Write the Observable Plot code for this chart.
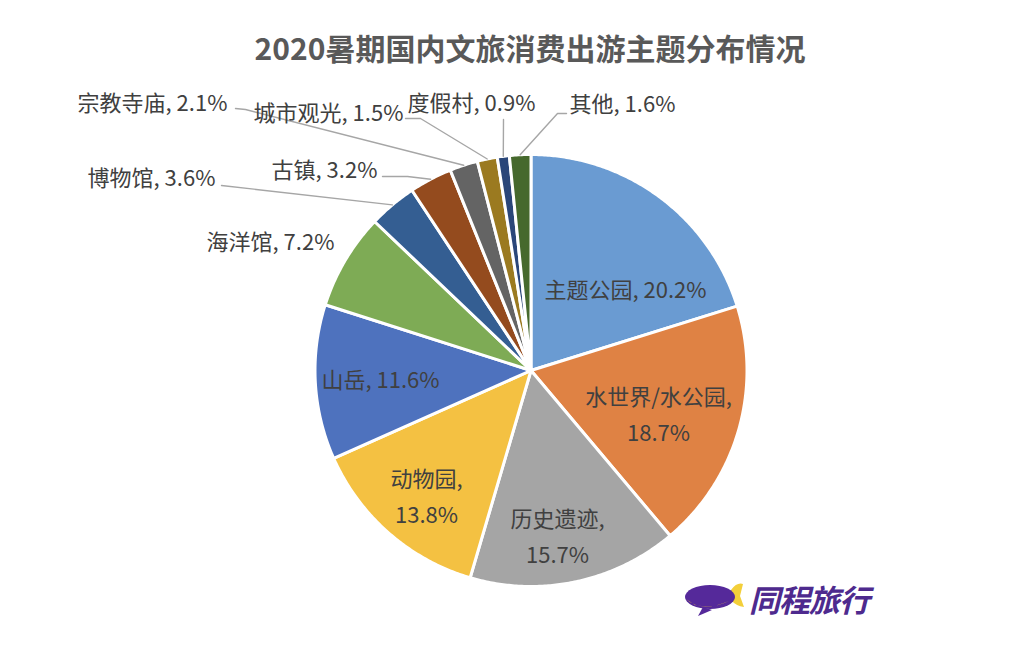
<!DOCTYPE html>
<html><head><meta charset="utf-8">
<script src="https://cdn.jsdelivr.net/npm/d3@7"></script>
<script src="https://cdn.jsdelivr.net/npm/@observablehq/plot@0.6"></script>
<style>
body{margin:0;background:#fff;}
#wrap{position:relative;width:1016px;height:654px;font-family:"Noto Sans CJK SC","Noto Sans",sans-serif;overflow:hidden;}
#title{position:absolute;left:0;width:1060px;top:29px;text-align:center;font-size:30px;font-weight:bold;color:#595959;line-height:36px;}
#chart{position:absolute;left:0;top:0;}
#logo{position:absolute;left:683px;top:576px;display:flex;align-items:center;}
#logo span{font-size:31px;font-weight:bold;color:#4e2a8e;margin-left:4px;font-style:italic;letter-spacing:-1px;}
</style></head>
<body>
<div id="wrap">
  <div id="chart"></div>
  <div id="title">2020暑期国内文旅消费出游主题分布情况</div>
  <div id="logo">
    <svg width="62" height="38" viewBox="0 0 62 38">
      <path d="M48 10 Q54 2 60 4 L57 16 L61 27 Q53 26 48 20 Z" fill="#f3cf3a"/>
      <ellipse cx="27" cy="17" rx="25" ry="12" fill="#55299a"/>
      <path d="M3 19 Q18 33 46 21 Q30 29 12 25 Z" fill="#f3cf3a"/>
      <path d="M20 27 L15 36 L29 30 Z" fill="#55299a"/>
    </svg>
    <span>同程旅行</span>
  </div>
</div>
<script>
// ---- data ----
const categories = ["主题公园","水世界/水公园","历史遗迹","动物园","山岳","海洋馆","博物馆","古镇","宗教寺庙","城市观光","度假村","其他"];
const shares = [20.2, 18.7, 15.7, 13.8, 11.6, 7.2, 3.6, 3.2, 2.1, 1.5, 0.9, 1.6];
const sliceColors = ["#6a9bd2","#df8244","#a5a5a5","#f4c142","#4e72be","#7eab55","#345e92","#944b1e","#646464","#9b7a20","#2a4679","#46692d"];
const wrapLabel = [false, true, true, true, false, false, false, false, false, false, false, false];

// ---- layout (pixels) ----
const cx = 530.5, cy = 370, R = 216;
const labelX = [625, 658, 557, 426, 380, 270, 151, 324, 152, 328, 471, 622];
const labelY = [290, 415, 537, 497, 380, 242, 178, 170, 103, 113, 103, 104];
const labelShift = -4;
// leader line elbows, label side (pixels); null = no leader
const leaderElbows = [null, null, null, null, null, null,
  [[221,185]], [[382,176],[407,176]], [[235,108],[245,109]], [[405,118],[420,118]], [[503,119]], [[566,113],[557,113]]];

const ux = px => (px - cx) / R;
const uy = py => (cy - py) / R;

// ---- geometry ----
const total = d3.sum(shares);
let acc = 0;
const slices = categories.map((c, i) => {
  const a0 = acc / total * 2 * Math.PI;
  acc += shares[i];
  const a1 = acc / total * 2 * Math.PI;
  return {name: c, a0, a1, color: sliceColors[i]};
});
const slicePts = [];
for (const s of slices) {
  slicePts.push({name: s.name, x: 0, y: 0, color: s.color});
  const n = Math.max(2, Math.ceil((s.a1 - s.a0) / (Math.PI / 360)));
  for (let k = 0; k <= n; k++) {
    const a = s.a0 + (s.a1 - s.a0) * k / n;
    slicePts.push({name: s.name, x: Math.sin(a), y: Math.cos(a), color: s.color});
  }
}
const labels = categories.map((c, i) => ({
  text: wrapLabel[i] ? `${c},\n${shares[i]}%` : `${c}, ${shares[i]}%`,
  x: ux(labelX[i]), y: uy(labelY[i] + labelShift)
}));
const leaderPts = [];
slices.forEach((s, i) => {
  if (!leaderElbows[i]) return;
  for (const [px, py] of leaderElbows[i]) leaderPts.push({name: s.name, x: ux(px), y: uy(py)});
  const m = (s.a0 + s.a1) / 2;
  leaderPts.push({name: s.name, x: Math.sin(m), y: Math.cos(m)});
});

const chart = Plot.plot({
  width: 1016, height: 654,
  margin: 0,
  x: {domain: [-1, 1], range: [cx - R, cx + R], axis: null},
  y: {domain: [-1, 1], range: [cy + R, cy - R], axis: null},
  color: {type: "identity"},
  style: {fontFamily: '"Noto Sans CJK SC", sans-serif', background: "transparent"},
  marks: [
    Plot.line(slicePts, {x: "x", y: "y", z: "name", fill: "color", stroke: "white", strokeWidth: 3, curve: "linear-closed"}),
    Plot.line(leaderPts, {x: "x", y: "y", z: "name", stroke: "#a6a6a6", strokeWidth: 1.4}),
    Plot.text(labels, {x: "x", y: "y", text: "text", fontSize: 22, fill: "#404040", lineHeight: 1.65})
  ]
});
document.getElementById("chart").appendChild(chart);
</script>
</body></html>
